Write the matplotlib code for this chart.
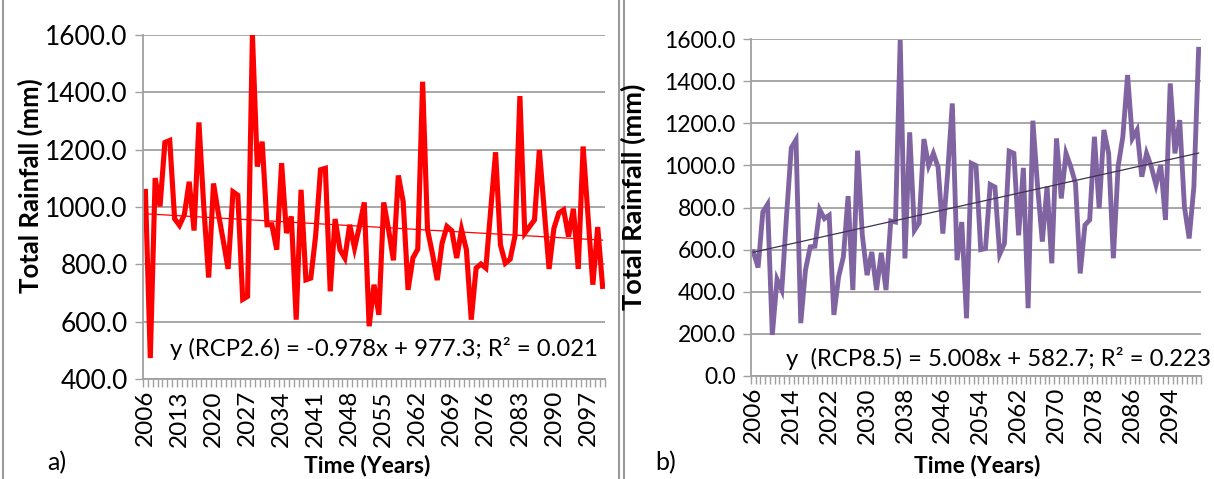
import matplotlib
matplotlib.use("Agg")
import matplotlib.pyplot as plt
import numpy as np

years = list(range(2006, 2101))

rcp26 = [1054, 473, 1101, 1002, 1225, 1232, 959, 936, 973, 1088,
         918, 1295, 1000, 754, 1082, 977, 883, 784, 1053, 1041,
         678, 688, 1600, 1141, 1228, 938, 938, 851, 1153, 909,
         967, 607, 1060, 746, 752, 900, 1130, 1135, 706, 958,
         851, 822, 938, 857, 932, 1016, 584, 729, 624, 1016,
         921, 814, 1110, 1019, 711, 822, 853, 1437, 921, 839,
         745, 874, 932, 917, 822, 921, 851, 607, 787, 801,
         787, 990, 1191, 868, 804, 818, 900, 1387, 909, 932,
         955, 1199, 990, 784, 926, 979, 990, 897, 994, 784,
         1211, 970, 729, 930, 723]

rcp85 = [589, 515, 779, 815, 195, 459, 408, 760, 1083, 1121,
         251, 503, 613, 616, 790, 747, 763, 290, 471, 566,
         854, 408, 1070, 668, 479, 589, 408, 585, 408, 736,
         731, 1595, 558, 1157, 692, 727, 1125, 999, 1057, 991,
         676, 960, 1294, 550, 731, 274, 1010, 999, 600, 605,
         909, 897, 578, 629, 1067, 1057, 668, 988, 322, 1212,
         900, 638, 899, 535, 1128, 843, 1057, 994, 915, 487,
         717, 741, 1136, 796, 1168, 1057, 559, 994, 1136, 1429,
         1128, 1168, 946, 1057, 994, 907, 1002, 741, 1389, 1057,
         1215, 804, 653, 899, 1551]

trend26 = (-0.978, 977.3)
trend85 = (5.008, 582.7)
eq26 = "y (RCP2.6) = -0.978x + 977.3; R² = 0.021"
eq85 = "y  (RCP8.5) = 5.008x + 582.7; R² = 0.223"

plt.rcParams['font.family'] = ['Lato', 'DejaVu Sans']

W, H = 1214, 479
fig = plt.figure(figsize=(W / 100, H / 100), dpi=100)
fig.patch.set_facecolor('white')


def px_axes(x0, y0, x1, y1):
    return fig.add_axes([x0 / W, 1 - y1 / H, (x1 - x0) / W, (y1 - y0) / H])


GRID = '#a0a0a0'


def style(ax, ylim, yticks, step, ytick_fs, xtick_fs):
    n = len(years)
    ax.set_xlim(-0.5, n - 0.5)
    ax.set_ylim(*ylim)
    ax.set_yticks(yticks)
    ax.set_yticklabels([f"{v:.1f}" for v in yticks], fontsize=ytick_fs)
    major = list(range(0, n, step))
    ax.set_xticks(major)
    ax.set_xticklabels([str(years[i]) for i in major], rotation=90, fontsize=xtick_fs)
    ax.set_xticks(np.arange(-0.5, n, 1.0), minor=True)
    ax.tick_params(axis='x', which='major', length=0, pad=8)
    ax.tick_params(axis='x', which='minor', length=6, color=GRID, width=1)
    ax.tick_params(axis='y', length=6, color=GRID, width=1, pad=5)
    ax.grid(axis='y', color=GRID, linewidth=1.3)
    ax.set_axisbelow(True)
    for s in ['top', 'right']:
        ax.spines[s].set_visible(False)
    for s in ['left', 'bottom']:
        ax.spines[s].set_color(GRID)
        ax.spines[s].set_linewidth(1.3)


# Left panel
ax1 = px_axes(143, 35, 605, 379)
x = np.arange(len(years))
ax1.plot(x, rcp26, color='#ff0000', linewidth=3.7, solid_joinstyle='miter')
xt = np.arange(1, len(years) + 1)
ax1.plot(x, trend26[1] + trend26[0] * xt, color='#ff0000', linewidth=0.9)
style(ax1, (400, 1600), list(range(400, 1601, 200)), 7, 19, 17.5)

# Right panel
ax2 = px_axes(751, 39, 1201, 376)
ax2.plot(x, rcp85, color='#8064a2', linewidth=3.5, solid_joinstyle='miter')
ax2.plot(x, trend85[1] + trend85[0] * xt, color='#3f3151', linewidth=0.9)
style(ax2, (0, 1600), list(range(0, 1601, 200)), 8, 16.5, 17.5)

# Texts
fig.text(170 / W, 1 - 349 / H, eq26, fontsize=17.2, va='center', ha='left')
fig.text(786 / W, 1 - 358 / H, eq85, fontsize=17.2, va='center', ha='left')

fig.text(30 / W, 1 - 186 / H, "Total Rainfall (mm)", rotation=90, fontsize=18.5,
         fontweight='bold', ha='center', va='center')
fig.text(633 / W, 1 - 197 / H, "Total Rainfall (mm)", rotation=90, fontsize=19.5,
         fontweight='bold', ha='center', va='center')
fig.text(367 / W, 1 - 466 / H, "Time (Years)", fontsize=16.5, fontweight='bold',
         ha='center', va='center')
fig.text(977 / W, 1 - 466 / H, "Time (Years)", fontsize=16.5, fontweight='bold',
         ha='center', va='center')
fig.text(57 / W, 1 - 463 / H, "a)", fontsize=18, ha='center', va='center')
fig.text(666 / W, 1 - 463 / H, "b)", fontsize=18, ha='center', va='center')

# Panel borders
for xb in [3, 619, 624]:
    fig.add_artist(plt.Line2D([xb / W, xb / W], [0, 1], color='#9a9a9a', linewidth=1.5))

fig.savefig("out.png", dpi=100)
